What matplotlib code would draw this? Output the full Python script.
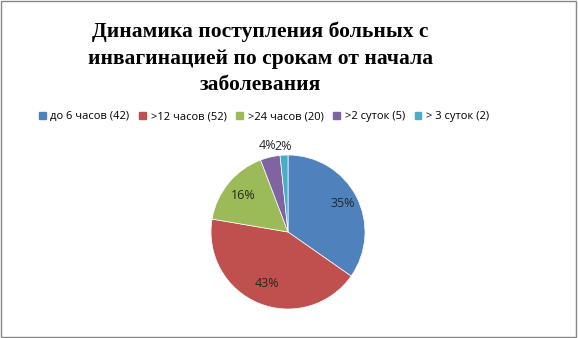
import matplotlib.pyplot as plt
import numpy as np

categories = ['до 6 часов (42)', '>12 часов (52)', '>24 часов (20)', '>2 суток (5)', '> 3 суток (2)']
counts = [42, 52, 20, 5, 2]
pct_labels = ['35%', '43%', '16%', '4%', '2%']
colors = ['#4F81BD', '#C0504D', '#9BBB59', '#8064A2', '#4BACC6']
label_dist = [0.8, 0.72, 0.75, 1.15, 1.11]

fig = plt.figure(figsize=(5.78, 3.38), dpi=100)
fig.patches.append(plt.Rectangle((0.002, 0.003), 0.995, 0.993, transform=fig.transFigure,
                                 fill=False, edgecolor='#868686', linewidth=1.0))

fig.text(0.45, 0.937, 'Динамика поступления больных с\nинвагинацией по срокам от начала\nзаболевания',
         ha='center', va='top', fontsize=15.5, fontweight='bold',
         family='Liberation Serif', linespacing=1.45)

# pie: center ~ (288, 232) px, radius ~77 px
ax = fig.add_axes([(288 - 77) / 578, (338 - 232 - 77) / 338, 154 / 578, 154 / 338])
wedges, _ = ax.pie(counts, colors=colors, startangle=90, counterclock=False,
                   wedgeprops=dict(linewidth=0.5, edgecolor='white'))
ax.set_xlim(-1, 1)
ax.set_ylim(-1, 1)
ax.set_aspect('equal')

for w, lab, d in zip(wedges, pct_labels, label_dist):
    ang = np.deg2rad((w.theta1 + w.theta2) / 2)
    ax.text(d * np.cos(ang), d * np.sin(ang), lab, ha='center', va='center',
            fontsize=9, family='Open Sans', color='#262626', clip_on=False)

handles = [plt.Rectangle((0, 0), 1, 1, color=c) for c in colors]
fig.legend(handles, categories, loc='center', bbox_to_anchor=(0.457, 0.655), ncol=5,
           frameon=False, prop={'family': 'Open Sans', 'size': 8},
           handlelength=0.6, handleheight=0.6, handletextpad=0.4, columnspacing=0.9)

fig.savefig('out.png', dpi=100)
